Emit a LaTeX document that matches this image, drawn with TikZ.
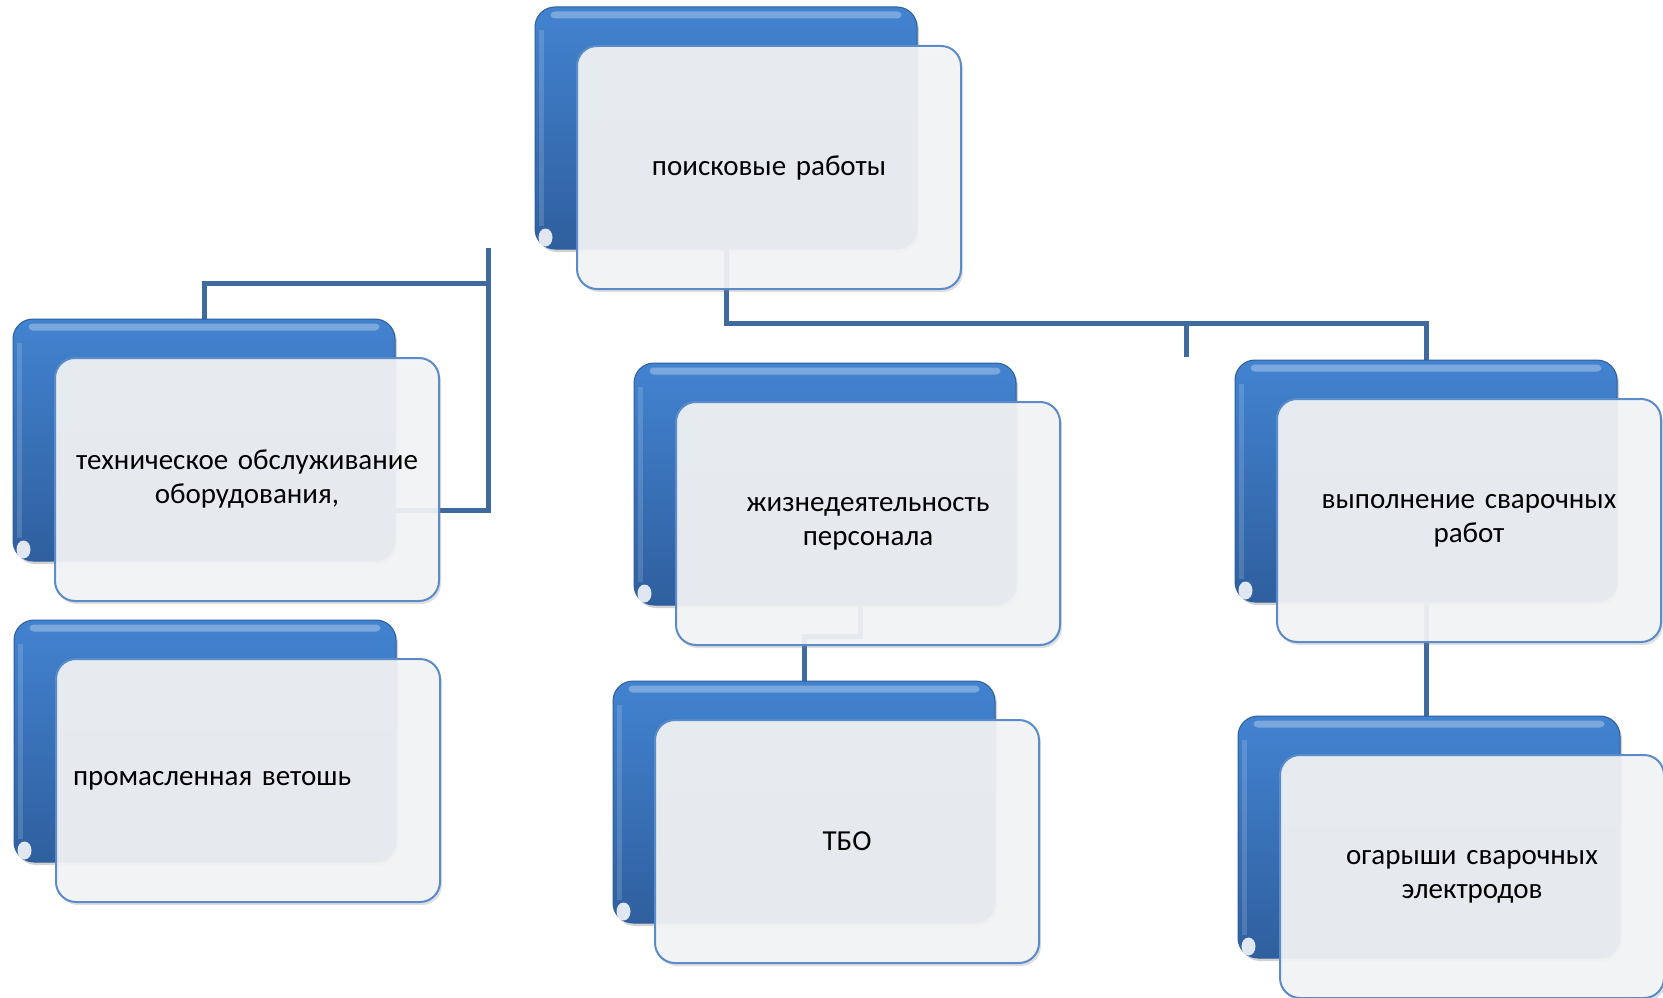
\documentclass[tikz,border=0pt]{standalone}
\usepackage{fontspec}
\setmainfont{Carlito}
\usetikzlibrary{shadows,calc}
\pgfdeclarelayer{background}
\pgfsetlayers{background,main}
\definecolor{bkTop}{HTML}{4283D0}
\definecolor{bkBot}{HTML}{2F5F9E}
\definecolor{bkEdge}{HTML}{2E5E9C}
\definecolor{frFill}{HTML}{F4F5F6}
\definecolor{frEdge}{HTML}{5B8BC9}
\definecolor{connC}{HTML}{3E6A9E}
\tikzset{
  backbox/.style={rectangle, rounded corners=20pt, minimum width=382pt, minimum height=242pt,
    inner sep=0pt, top color=bkTop, bottom color=bkBot, draw=bkEdge, line width=1pt,
    drop shadow={opacity=0.35, shadow xshift=2pt, shadow yshift=-3pt}},
  frontbox/.style={rectangle, rounded corners=20pt, minimum width=384pt, minimum height=243pt,
    inner sep=0pt, text width=360pt, align=center, fill=frFill, fill opacity=0.92, text opacity=1,
    draw=frEdge, line width=2pt, font=\fontsize{29}{34}\selectfont,
    drop shadow={opacity=0.25, shadow xshift=2pt, shadow yshift=-3pt}},
  gloss/.style={white, opacity=0.3},
  connline/.style={draw=connC, line width=5pt, line join=miter}
}
\newcommand\mkpair[5]{%
  \node[backbox] (#1b) at (#2+191,#3+121) {};
  \fill[gloss, rounded corners=4pt] ([xshift=16pt,yshift=-5pt]#1b.north west) rectangle ([xshift=-16pt,yshift=-12pt]#1b.north east);
  \fill[white, opacity=0.15] ([xshift=4pt,yshift=-24pt]#1b.north west) rectangle ([xshift=9pt,yshift=24pt]#1b.south west);
  \fill[white, opacity=0.85] ([xshift=11pt,yshift=12pt]#1b.south west) ellipse (7pt and 9pt);
  \node[frontbox, #5] (#1f) at (#2+42+192,#3+39+121.5) {#4};
}
\begin{document}
\begin{tikzpicture}[x=1pt,y=-1pt]
\useasboundingbox (0,0) rectangle (1663,998);
\begin{pgfonlayer}{background}
  \fill[white] (0,0) rectangle (1663,998);
\end{pgfonlayer}

\mkpair{top}{535}{7}{поисковые работы}{}
\mkpair{tech}{13}{319}{техническое обслуживание\\ оборудования,}{}
\mkpair{prom}{14}{620}{промасленная ветошь}{align=left, text width=350pt}
\mkpair{zhiz}{634}{363}{жизнедеятельность\\ персонала}{}
\mkpair{vyp}{1235}{360}{выполнение сварочных\\ работ}{}
\mkpair{tbo}{613}{681}{ТБО}{}
\mkpair{og}{1238}{716}{огарыши сварочных\\ электродов}{}

\coordinate (bus) at (1186,323);
\coordinate (stub) at (1186,357);
\coordinate (lt) at (488,248);
\coordinate (lm) at (488,283);
\coordinate (lb) at (488,510);
\coordinate (zj) at (804,636);

\begin{pgfonlayer}{background}
  \draw[connline] (topb.south) |- (bus) -| (vypb.north);
  \draw[connline] (bus) -- (stub);
  \draw[connline] (vypb.south) -- (vypb.south |- ogb.north);
  \draw[connline] (lt) -- (lb) -- (lb -| techb.east);
  \draw[connline] (techb.north) |- (lm);
  \draw[connline] ([xshift=35pt]zhizb.south) |- (zj) -- (tbob.north);
\end{pgfonlayer}
\end{tikzpicture}
\end{document}
